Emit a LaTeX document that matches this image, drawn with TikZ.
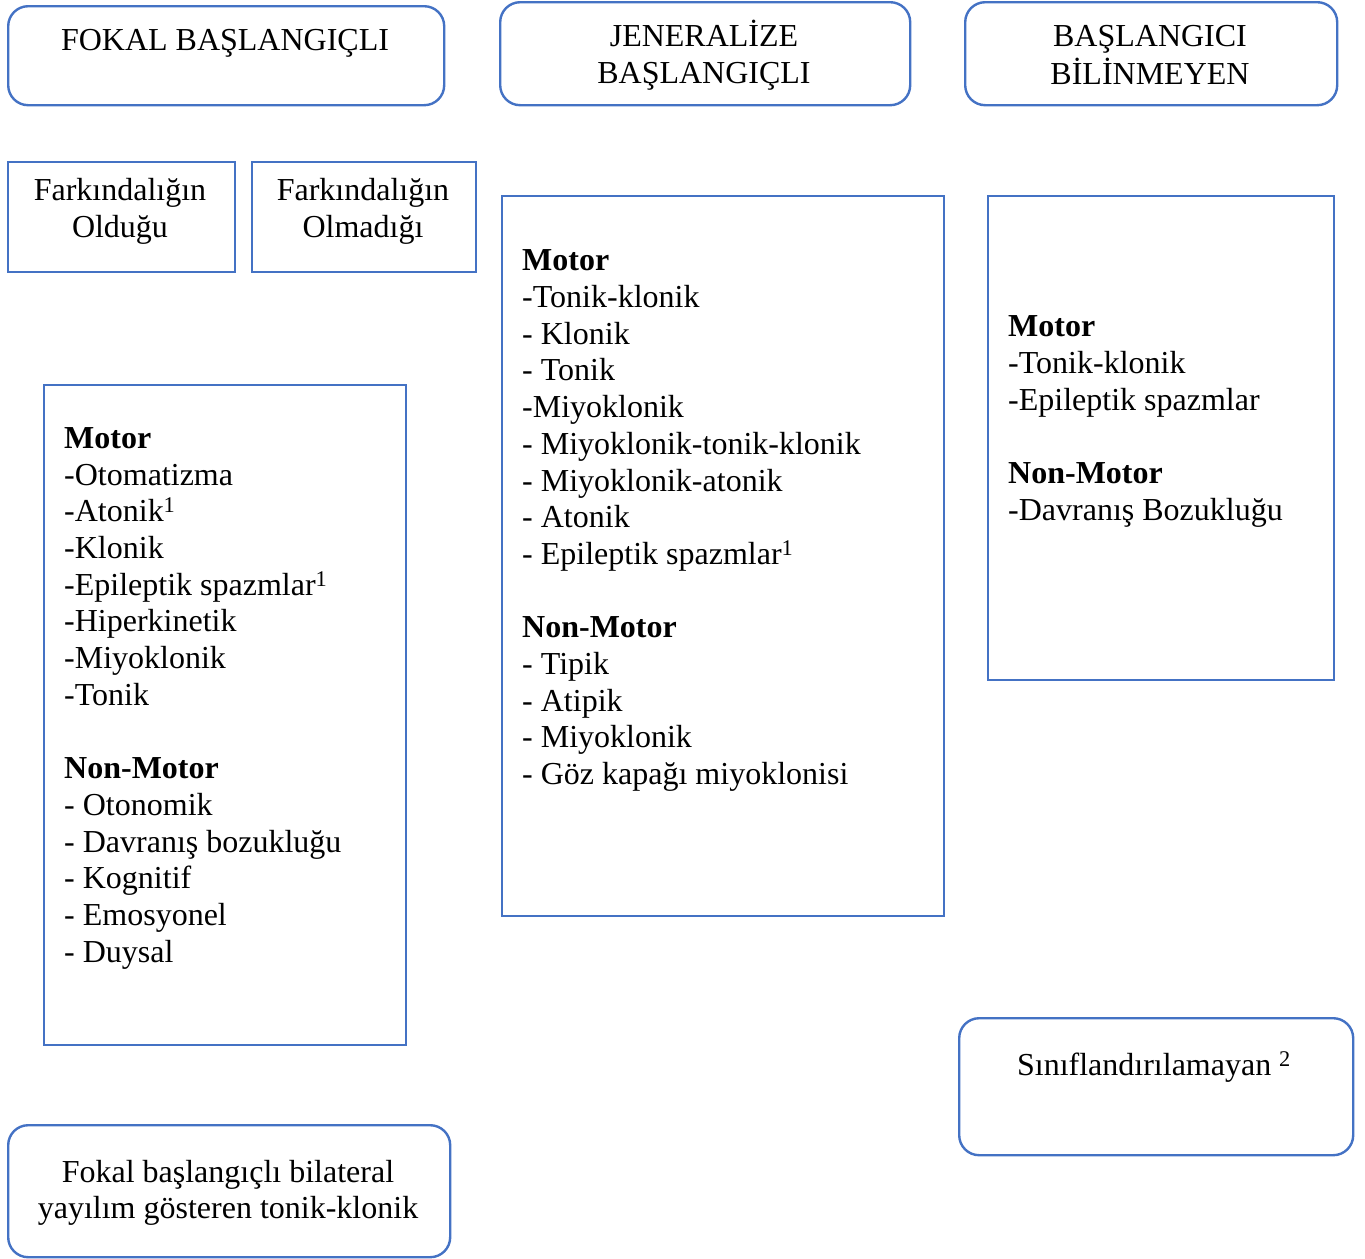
\documentclass[tikz,border=0pt]{standalone}
\usepackage{fontspec}
\setmainfont{Liberation Serif}
\definecolor{boxblue}{HTML}{4472C4}
\begin{document}
\begin{tikzpicture}[x=1pt,y=-1pt,
  rbox/.style={draw=boxblue,line width=2.4pt,rounded corners=20pt,anchor=north west,inner sep=0pt},
  sbox/.style={draw=boxblue,line width=2.4pt,anchor=north west,inner sep=0pt},
  ttl/.style={font=\fontsize{32}{37}\selectfont,align=center,inner sep=0pt,anchor=north},
  lst/.style={font=\fontsize{32}{36.7}\selectfont,align=left,anchor=north west,inner sep=0pt}
]
\useasboundingbox (0,0) rectangle (1365,1258);
% top rounded boxes
\node[rbox,minimum width=436pt,minimum height=99pt] (fokal) at (7,5) {};
\node[ttl] (fokalT) at (225,24.1) {\strut FOKAL BAŞLANGIÇLI};
\node[rbox,minimum width=410pt,minimum height=103pt] (jen) at (499,1) {};
\node[ttl] (jenT) at (704,20.1) {\strut JENERALİZE\\BAŞLANGIÇLI};
\node[rbox,minimum width=372pt,minimum height=103pt] (bil) at (964,1) {};
\node[ttl] (bilT) at (1150,20.1) {\strut BAŞLANGICI\\BİLİNMEYEN};
% awareness boxes
\node[sbox,minimum width=227pt,minimum height=110pt] (fark1) at (7,161) {};
\node[ttl] (fark1T) at (120,174.1) {\strut Farkındalığın\\Olduğu};
\node[sbox,minimum width=224pt,minimum height=110pt] (fark2) at (251,161) {};
\node[ttl] (fark2T) at (363,174.1) {\strut Farkındalığın\\Olmadığı};
% generalized list
\node[sbox,minimum width=442pt,minimum height=720pt] (genL) at (501,195) {};
\node[lst] (genT) at (522,245) {\strut\textbf{Motor}\\-Tonik-klonik\\- Klonik\\- Tonik\\-Miyoklonik\\- Miyoklonik-tonik-klonik\\- Miyoklonik-atonik\\- Atonik\\- Epileptik spazmlar\textsuperscript{1}\\[36.7pt]\textbf{Non-Motor}\\- Tipik\\- Atipik\\- Miyoklonik\\- Göz kapağı miyoklonisi};
% unknown list
\node[sbox,minimum width=346pt,minimum height=484pt] (unkL) at (987,195) {};
\node[lst] (unkT) at (1008,311) {\strut\textbf{Motor}\\-Tonik-klonik\\-Epileptik spazmlar\\[36.7pt]\textbf{Non-Motor}\\-Davranış Bozukluğu};
% focal list
\node[sbox,minimum width=362pt,minimum height=660pt] (focL) at (43,384) {};
\node[lst] (focT) at (64,422.5) {\strut\textbf{Motor}\\-Otomatizma\\-Atonik\textsuperscript{1}\\-Klonik\\-Epileptik spazmlar\textsuperscript{1}\\-Hiperkinetik\\-Miyoklonik\\-Tonik\\[36.7pt]\textbf{Non-Motor}\\- Otonomik\\- Davranış bozukluğu\\- Kognitif\\- Emosyonel\\- Duysal};
% bottom boxes
\node[rbox,minimum width=394pt,minimum height=137pt] (unc) at (958,1017) {};
\node[ttl] (uncT) at (1154,1049.1) {\strut Sınıflandırılamayan \textsuperscript{2}};
\node[rbox,minimum width=442pt,minimum height=132pt] (bilat) at (7,1124) {};
\node[ttl,font=\fontsize{32}{36}\selectfont] (bilatT) at (228,1156.8) {\strut Fokal başlangıçlı bilateral\\yayılım gösteren tonik-klonik};
\end{tikzpicture}
\end{document}
